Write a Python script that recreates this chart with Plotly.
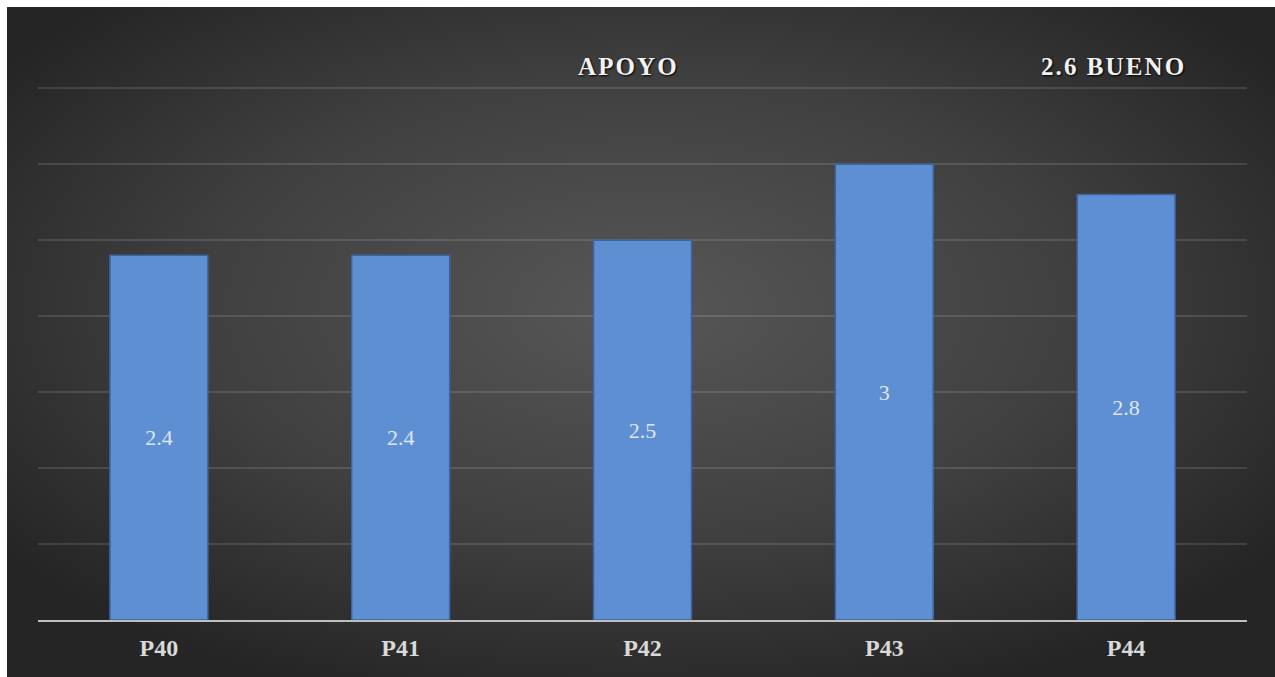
import base64
import plotly.graph_objects as go

# Scores per question
categories = ["P40", "P41", "P42", "P43", "P44"]
scores = [2.4, 2.4, 2.5, 3.0, 2.8]
score_labels = ["2.4", "2.4", "2.5", "3", "2.8"]

title_text = "APOYO"
summary_text = "2.6 BUENO"

HAIR = "\u200a"


def spaced(s):
    # widen letter spacing with hair spaces; keep word gaps visible
    return HAIR.join("\u00a0" if ch == " " else ch for ch in s)


# Dark radial backdrop as an inline SVG
bg_svg = (
    '<svg xmlns="http://www.w3.org/2000/svg" width="1268" height="670" '
    'preserveAspectRatio="none">'
    '<defs><radialGradient id="g" cx="50%" cy="45%" r="62%">'
    '<stop offset="0%" stop-color="#575757"/>'
    '<stop offset="55%" stop-color="#404040"/>'
    '<stop offset="100%" stop-color="#252525"/>'
    '</radialGradient></defs>'
    '<rect width="1268" height="670" fill="url(#g)"/></svg>'
)
bg_uri = "data:image/svg+xml;base64," + base64.b64encode(bg_svg.encode()).decode()

W, H = 1275, 677
ML, MR, MT, MB = 38, 28, 73, 57
pw, ph = W - ML - MR, H - MT - MB

head_font = dict(family="Liberation Serif", size=25, color="#f2f2f2",
                 weight="bold", shadow="1px 1px 2px #000")

fig = go.Figure(
    go.Bar(
        x=categories,
        y=scores,
        text=score_labels,
        textposition="inside",
        insidetextanchor="middle",
        textfont=dict(family="Liberation Serif", size=22, color="#dfe6f1"),
        marker=dict(color="#5f8fd3", line=dict(color="#3d649f", width=1.5)),
        hoverinfo="skip",
    )
)

fig.update_layout(
    width=W,
    height=H,
    margin=dict(l=ML, r=MR, t=MT, b=MB),
    paper_bgcolor="white",
    plot_bgcolor="rgba(0,0,0,0)",
    bargap=0.595,
    showlegend=False,
    images=[
        dict(
            source=bg_uri,
            xref="paper",
            yref="paper",
            x=(7 - ML) / pw,
            y=1 + (MT - 7) / ph,
            sizex=(W - 7) / pw,
            sizey=(H - 7) / ph,
            sizing="stretch",
            xanchor="left",
            yanchor="top",
            layer="below",
        )
    ],
    annotations=[
        dict(
            text=spaced(title_text),
            xref="paper",
            yref="paper",
            x=(627 - ML) / pw,
            y=(H - MB - 66) / ph,
            xanchor="center",
            yanchor="middle",
            showarrow=False,
            font=head_font,
        ),
        dict(
            text=spaced(summary_text),
            xref="paper",
            yref="paper",
            x=(1112 - ML) / pw,
            y=(H - MB - 66) / ph,
            xanchor="center",
            yanchor="middle",
            showarrow=False,
            font=head_font,
        ),
    ],
)

fig.update_xaxes(
    showgrid=False,
    showline=True,
    linecolor="#bfbfbf",
    linewidth=2,
    ticks="",
    tickfont=dict(family="Liberation Serif", size=24, color="#d9d9d9", weight="bold"),
    ticklabelstandoff=5,
)
fig.update_yaxes(
    range=[0, 3.6],
    dtick=0.5,
    showticklabels=False,
    showgrid=True,
    gridcolor="rgba(255,255,255,0.12)",
    gridwidth=2,
    zeroline=False,
)

fig.write_html("out.html")
